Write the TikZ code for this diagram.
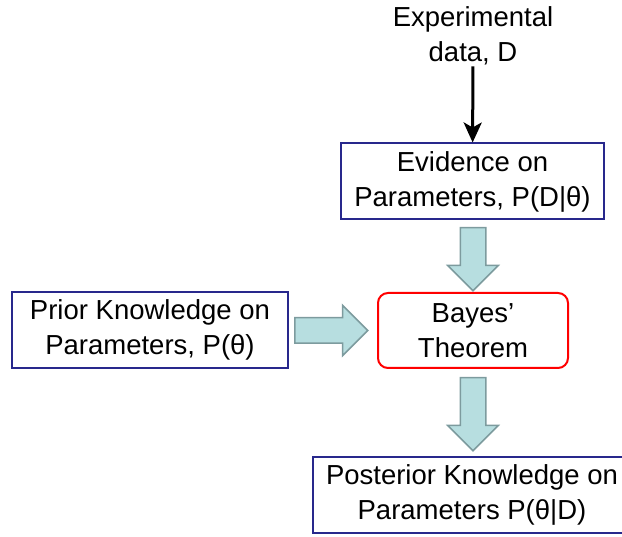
\documentclass[tikz,border=0pt]{standalone}
\usepackage{fontspec}
\setmainfont{Liberation Sans}
\usetikzlibrary{shapes.arrows}
\usetikzlibrary{arrows.meta}
\definecolor{boxblue}{RGB}{40,40,140}
\definecolor{fatfill}{RGB}{183,222,224}
\definecolor{fatline}{RGB}{125,155,158}

\begin{document}
\begin{tikzpicture}[x=1pt, y=-1pt,
    box/.style={draw=boxblue, line width=2pt, minimum height=76pt, align=center,
        font=\fontsize{27.5}{35}\selectfont},
    bayesbox/.style={box, draw=red, rounded corners=10pt},
    fatarrow/.style={single arrow, draw=fatline, fill=fatfill, line width=1.5pt,
        inner xsep=0pt, inner ysep=12pt, single arrow head extend=12.5pt, anchor=tail}]
    \useasboundingbox (0,0) rectangle (622,537);
    \begin{scope}
    \clip (0,0) rectangle (622,537);
    \node[align=center, font=\fontsize{27.5}{35}\selectfont, inner sep=1pt] (data) at (473,36) {Experimental\\data, D};
    \node[box, minimum width=263pt] (evid) at (472.5,181.5) {Evidence on\\Parameters, P(D|θ)};
    \node[bayesbox, minimum width=190pt, minimum height=75pt] (bayes) at (473,330.5) {Bayes’\\Theorem};
    \node[box, minimum width=276pt] (prior) at (150,330) {Prior Knowledge on\\Parameters, P(θ)};
    \node[box, minimum width=318pt] (post) at (472,495) {Posterior Knowledge on\\Parameters P(θ|D)};
    % fat arrows between the boxes
    \node[fatarrow, minimum height=63pt, rotate=-90] (a1) at (473,227) {};
    \node[fatarrow, minimum height=73pt] (a2) at (294,330.5) {};
    \node[fatarrow, minimum height=73pt, rotate=-90] (a3) at (473,377) {};
    \draw[-{Stealth[length=20pt, width=18pt, inset=5pt]}, line width=3pt] (data) -- (evid);
    \end{scope}
\end{tikzpicture}
\end{document}
